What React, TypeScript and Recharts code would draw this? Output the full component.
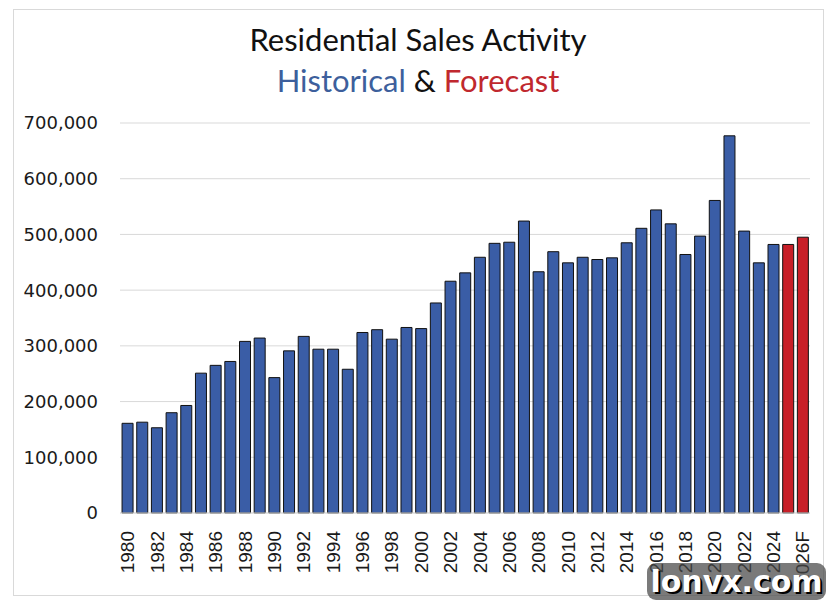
import { BarChart, Bar, XAxis, YAxis, CartesianGrid, Cell } from "recharts"

// Annual residential sales, 1980 through the 2026 forecast
const YEARS = [
  "1980", "1981", "1982", "1983", "1984", "1985", "1986", "1987", "1988", "1989",
  "1990", "1991", "1992", "1993", "1994", "1995", "1996", "1997", "1998", "1999",
  "2000", "2001", "2002", "2003", "2004", "2005", "2006", "2007", "2008", "2009",
  "2010", "2011", "2012", "2013", "2014", "2015", "2016", "2017", "2018", "2019",
  "2020", "2021", "2022", "2023", "2024", "2025", "2026F",
]

const SALES = [
  161000, 163000, 153000, 180000, 193000, 251000, 265000, 272000, 308000, 314000,
  243000, 291000, 317000, 294000, 294000, 258000, 324000, 329000, 312000, 333000,
  331000, 377000, 416000, 431000, 459000, 484000, 486000, 524000, 433000, 469000,
  449000, 459000, 455000, 458000, 485000, 511000, 544000, 519000, 464000, 497000,
  561000, 677000, 506000, 449000, 482000, 482000, 495000,
]

// last two years are forecasts
const FORECAST_YEARS = ["2025", "2026F"]

const Y_TICKS = [0, 100000, 200000, 300000, 400000, 500000, 600000, 700000]

const BLUE = "#3a5da6"
const RED = "#c81f28"

const chartData = YEARS.map((year, i) => ({ year, sales: SALES[i] }))

const formatTick = (v: number) => (v === 0 ? "0" : v.toLocaleString("en-US"))

type TickProps = { x?: number; y?: number; payload?: { value: string | number } }

const YearTick = ({ x = 0, y = 0, payload }: TickProps) => (
  <text
    x={x}
    y={y + 10}
    transform={`rotate(-90, ${x}, ${y + 10})`}
    textAnchor="end"
    dy="0.36em"
    style={{ fontFamily: "'Liberation Sans', Arial, sans-serif", fontSize: 19 }}
    fill="#1a1a1a"
  >
    {payload?.value}
  </text>
)

const ValueTick = ({ x = 0, y = 0, payload }: TickProps) => (
  <text
    x={x}
    y={y}
    textAnchor="end"
    dy="0.36em"
    style={{ fontFamily: "'DejaVu Sans', sans-serif", fontSize: 18 }}
    fill="#1a1a1a"
  >
    {formatTick(Number(payload?.value))}
  </text>
)

export default function App() {
  return (
    <div
      style={{
        position: "absolute",
        left: 0,
        top: 0,
        width: 831,
        height: 608,
        background: "#fff",
        overflow: "hidden",
      }}
    >
      <div
        style={{
          position: "absolute",
          left: 13,
          top: 9,
          width: 809,
          height: 585,
          border: "1px solid #d9d9d9",
        }}
      />
      <div
        style={{
          position: "absolute",
          left: 0,
          width: 836,
          top: 19,
          textAlign: "center",
          fontFamily: "Lato, sans-serif",
          fontSize: 31,
          lineHeight: "41px",
          color: "#111",
        }}
      >
        <div>Residential Sales Activity</div>
        <div>
          <span style={{ color: "#3d5f9c" }}>Historical</span> &amp;{" "}
          <span style={{ color: "#c0282e" }}>Forecast</span>
        </div>
      </div>

      <BarChart
        width={831}
        height={608}
        data={chartData}
        margin={{ top: 123, right: 21, left: 0, bottom: 35 }}
        barCategoryGap="14%"
        style={{ position: "absolute", left: 0, top: 0 }}
      >
        <CartesianGrid vertical={false} stroke="#d9d9d9" />
        <XAxis
          dataKey="year"
          interval={1}
          height={60}
          axisLine={{ stroke: "#d9d9d9" }}
          tickLine={false}
          tick={<YearTick />}
        />
        <YAxis
          width={120}
          domain={[0, 700000]}
          ticks={Y_TICKS}
          axisLine={false}
          tickLine={false}
          tickSize={0}
          tickMargin={22}
          tick={<ValueTick />}
        />
        <Bar dataKey="sales" stroke="#111" strokeWidth={1} isAnimationActive={false}>
          {chartData.map((d) => (
            <Cell key={d.year} fill={FORECAST_YEARS.includes(d.year) ? RED : BLUE} />
          ))}
        </Bar>
      </BarChart>

      <div
        style={{
          position: "absolute",
          left: 647,
          top: 563,
          width: 179,
          height: 37,
          borderRadius: 9,
          background: "rgba(70,70,70,0.72)",
          color: "#fff",
          fontFamily: "'DejaVu Sans', sans-serif",
          fontWeight: "bold",
          fontSize: 30,
          lineHeight: "37px",
          textAlign: "center",
          textShadow: "2px 2px 0 #000",
        }}
      >
        lonvx.com
      </div>
    </div>
  )
}
